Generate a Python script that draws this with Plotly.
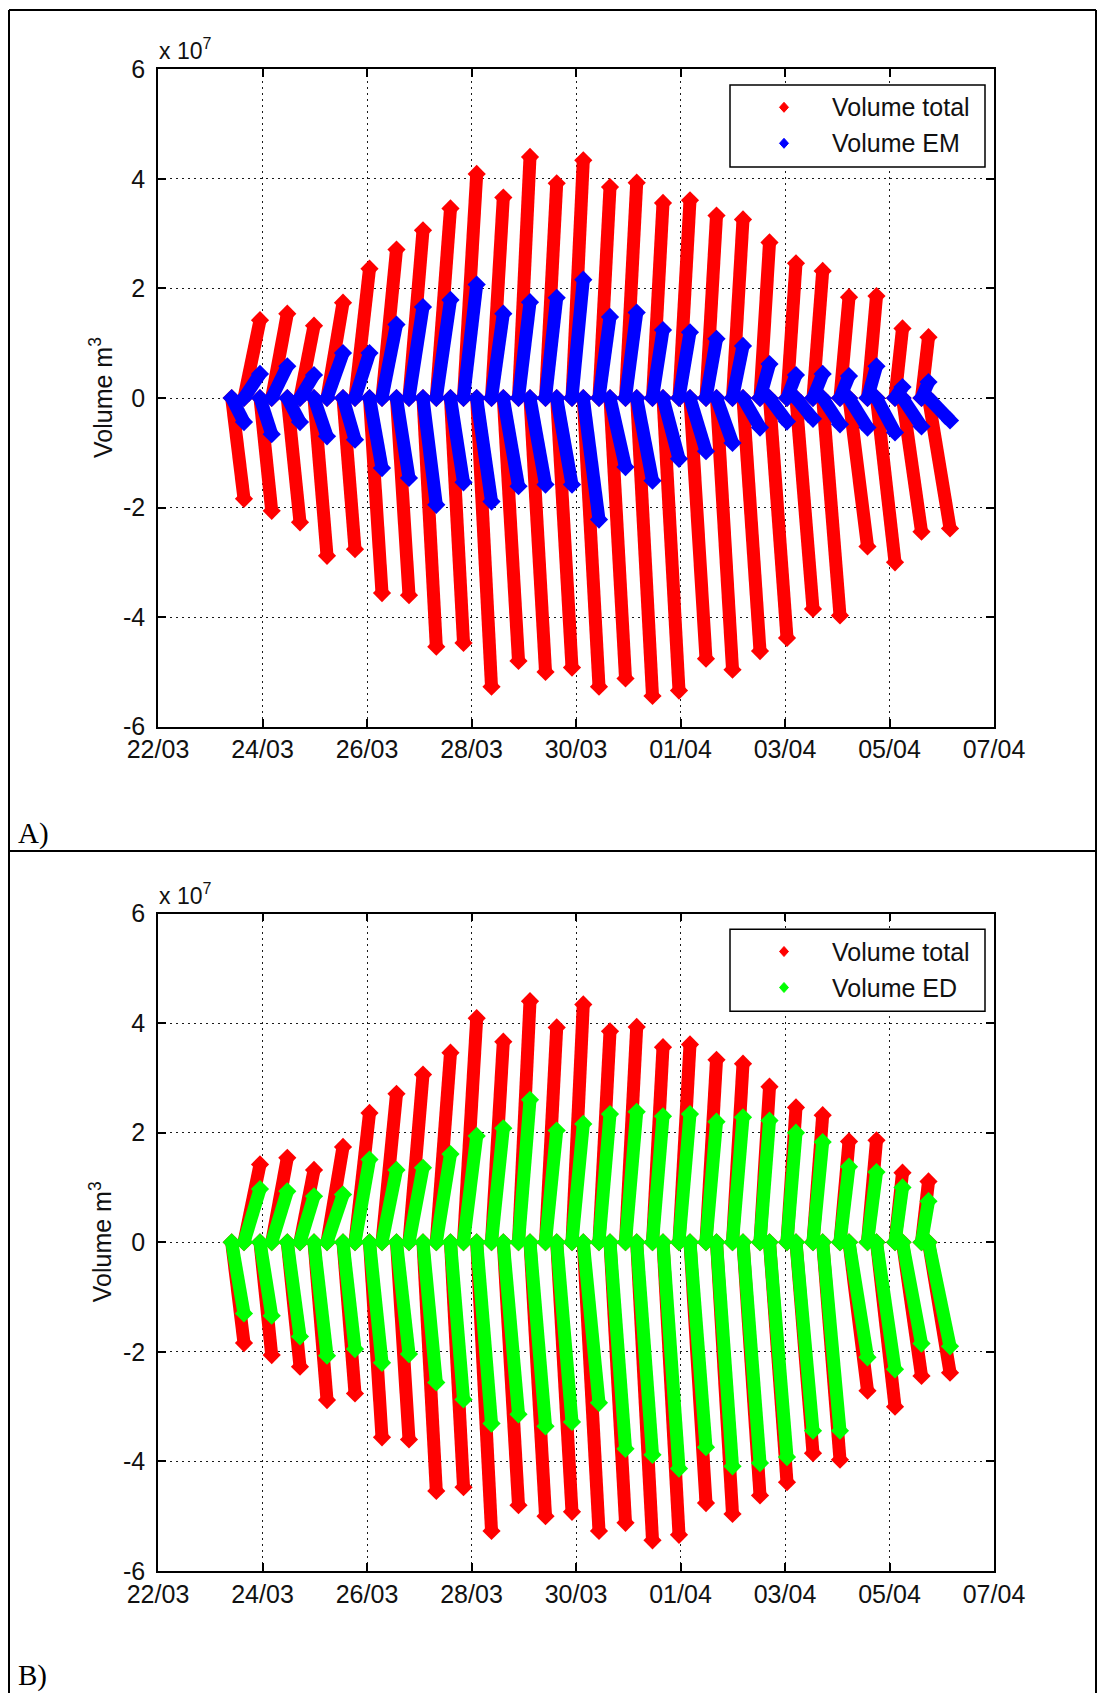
import pandas as pd
import plotly.graph_objects as go

# ---------------- data ----------------
# Turning times of the tide (hours after 22/03 00:00): ebb k runs B[2k]->B[2k+1],
# flood k runs B[2k+1]->B[2k+2]
BOUNDARY_HOURS = [
    33.85, 39.50, 46.85, 52.23, 59.39, 65.22, 71.66, 77.63, 84.98, 90.49,
    97.15, 102.89, 109.55, 115.29, 121.72, 127.83, 134.35, 140.33, 146.39, 153.19,
    158.61, 165.59, 170.87, 178.00, 183.14, 190.16, 195.35, 202.56, 207.62, 214.74,
    219.88, 227.14, 231.96, 239.31, 244.36, 251.71, 256.54, 263.89, 268.71, 276.52,
    280.88, 288.92, 293.05, 300.86, 305.31, 313.26, 317.40, 325.89, 330.03, 338.53,
    341.97, 350.70, 353.92, 363.80,
]

# cumulated volumes at end of each half tide, in 1e7 m3
TOTAL_FLOOD = [1.42, 1.54, 1.32, 1.74, 2.36, 2.71, 3.06, 3.46, 4.09, 3.66, 4.40, 3.92, 4.34,
               3.85, 3.93, 3.56, 3.61, 3.33, 3.26, 2.84, 2.46, 2.32, 1.84, 1.86, 1.27, 1.11]
TOTAL_EBB = [-1.84, -2.06, -2.27, -2.88, -2.76, -3.56, -3.60, -4.54, -4.47, -5.27, -4.80, -5.00,
             -4.92, -5.27, -5.12, -5.44, -5.34, -4.76, -4.96, -4.62, -4.38, -3.85, -3.97, -2.71,
             -3.00, -2.44, -2.38]
EM_FLOOD = [0.44, 0.58, 0.42, 0.82, 0.82, 1.34, 1.66, 1.79, 2.07, 1.54, 1.75, 1.83, 2.16,
            1.48, 1.56, 1.24, 1.20, 1.08, 0.95, 0.62, 0.42, 0.44, 0.40, 0.58, 0.20, 0.29]
EM_EBB = [-0.44, -0.66, -0.44, -0.70, -0.76, -1.28, -1.46, -1.95, -1.54, -1.89, -1.61, -1.58,
          -1.58, -2.22, -1.26, -1.51, -1.11, -0.97, -0.82, -0.54, -0.43, -0.38, -0.48, -0.54,
          -0.63, -0.52, -0.41]
ED_FLOOD = [0.97, 0.93, 0.84, 0.87, 1.51, 1.32, 1.36, 1.61, 1.94, 2.08, 2.60, 2.04, 2.16,
            2.34, 2.38, 2.30, 2.34, 2.20, 2.28, 2.22, 2.00, 1.83, 1.38, 1.28, 1.00, 0.75]
ED_EBB = [-1.30, -1.34, -1.72, -2.07, -1.95, -2.20, -2.04, -2.56, -2.87, -3.31, -3.14, -3.36,
          -3.28, -2.93, -3.77, -3.88, -4.13, -3.74, -4.09, -4.03, -3.92, -3.44, -3.44, -2.10,
          -2.32, -1.85, -1.90]

X_START = "2012-03-22"
X_END = "2012-04-07"
TICK_DATES = ["2012-03-22", "2012-03-24", "2012-03-26", "2012-03-28", "2012-03-30",
              "2012-04-01", "2012-04-03", "2012-04-05", "2012-04-07"]
TICK_LABELS = ["22/03", "24/03", "26/03", "28/03", "30/03", "01/04", "03/04", "05/04", "07/04"]
Y_TICKS = [-6, -4, -2, 0, 2, 4, 6]
Y_LABELS = ["-6", "-4", "-2", "0", "2", "4", "6"]

# ---------------- helpers ----------------
W, H = 1098, 1693
BASE = pd.Timestamp(X_START)
TIMES = [BASE + pd.to_timedelta(h, unit="h") for h in BOUNDARY_HOURS]


def fx(px):
    return px / W


def fy(py):
    return 1 - py / H


def strokes(ebb, flood):
    xs, ys = [], []
    for k, v in enumerate(ebb):
        xs += [TIMES[2 * k], TIMES[2 * k + 1], None]
        ys += [0, v, None]
    for k, v in enumerate(flood):
        xs += [TIMES[2 * k + 1], TIMES[2 * k + 2], None]
        ys += [0, v, None]
    return xs, ys


def stroke_trace(ebb, flood, color, xa, ya):
    xs, ys = strokes(ebb, flood)
    return go.Scatter(x=xs, y=ys, mode="lines+markers", xaxis=xa, yaxis=ya,
                      line=dict(color=color, width=13),
                      marker=dict(symbol="diamond", size=14, color=color, line=dict(width=0)),
                      connectgaps=False, showlegend=False, hoverinfo="skip")


RED, BLUE, GREEN = "#FF0000", "#0000FF", "#00FF00"
FONT = "Liberation Sans, Arial, sans-serif"

fig = go.Figure()
fig.add_trace(stroke_trace(TOTAL_EBB, TOTAL_FLOOD, RED, "x", "y"))
fig.add_trace(stroke_trace(EM_EBB, EM_FLOOD, BLUE, "x", "y"))
fig.add_trace(stroke_trace(TOTAL_EBB, TOTAL_FLOOD, RED, "x2", "y2"))
fig.add_trace(stroke_trace(ED_EBB, ED_FLOOD, GREEN, "x2", "y2"))

PLOT_L, PLOT_R = 158, 994
PANELS = [(69.3, 726.7), (913.5, 1571.0)]

common_x = dict(type="date", range=[X_START, X_END], tickvals=TICK_DATES, ticktext=TICK_LABELS,
                ticks="inside", ticklen=8, tickwidth=1.5, tickcolor="black",
                showline=True, linecolor="black", linewidth=1.5, mirror="ticks",
                showgrid=True, gridcolor="#1a1a1a", griddash="2px,4px", gridwidth=1.3,
                zeroline=False, tickfont=dict(family=FONT, size=25, color="#111"),
                ticklabelstandoff=0, automargin=False)
common_y = dict(range=[-6, 6], tickvals=Y_TICKS, ticktext=Y_LABELS,
                ticks="inside", ticklen=8, tickwidth=1.5, tickcolor="black",
                showline=True, linecolor="black", linewidth=1.5, mirror="ticks",
                showgrid=True, gridcolor="#1a1a1a", griddash="2px,4px", gridwidth=1.3,
                zeroline=False, tickfont=dict(family=FONT, size=25, color="#111"),
                ticklabelstandoff=6, automargin=False)

fig.update_layout(
    width=W, height=H, autosize=False,
    margin=dict(l=0, r=0, t=0, b=0, pad=0, autoexpand=False),
    paper_bgcolor="white", plot_bgcolor="white", showlegend=False,
    xaxis=dict(common_x, domain=[fx(PLOT_L), fx(PLOT_R)], anchor="y"),
    yaxis=dict(common_y, domain=[fy(PANELS[0][1]), fy(PANELS[0][0])], anchor="x"),
    xaxis2=dict(common_x, domain=[fx(PLOT_L), fx(PLOT_R)], anchor="y2"),
    yaxis2=dict(common_y, domain=[fy(PANELS[1][1]), fy(PANELS[1][0])], anchor="x2"),
)

shapes = []
annotations = []
# outer table borders
for (x0, y0, x1, y1) in [(9, 10, 1096, 10), (9, 10, 9, 1693), (1096, 10, 1096, 1693), (9, 851, 1096, 851)]:
    shapes.append(dict(type="line", xref="paper", yref="paper", x0=fx(x0), y0=fy(y0), x1=fx(x1), y1=fy(y1),
                       line=dict(color="black", width=2)))

legend_names = [("Volume total", RED, "Volume EM", BLUE), ("Volume total", RED, "Volume ED", GREEN)]
for i, (top, bot) in enumerate(PANELS):
    mid = (top + bot) / 2
    # scale factor label
    annotations.append(dict(xref="paper", yref="paper", x=fx(PLOT_L - 1), y=fy(top - 20), xanchor="left",
                            yanchor="middle", showarrow=False, text="x 10<sup>7</sup>",
                            font=dict(family=FONT, size=23, color="#111")))
    # y label
    annotations.append(dict(xref="paper", yref="paper", x=fx(101), y=fy(mid), xanchor="center",
                            yanchor="middle", showarrow=False, textangle=-90, text="Volume m<sup>3</sup>",
                            font=dict(family=FONT, size=25, color="#111")))
    # legend box
    off = top - PANELS[0][0]
    bx0, bx1, by0, by1 = 730, 985, 85 + off, 167 + off
    shapes.append(dict(type="rect", xref="paper", yref="paper", x0=fx(bx0), x1=fx(bx1), y0=fy(by0), y1=fy(by1),
                       line=dict(color="black", width=1.5), fillcolor="white", layer="above"))
    n1, c1, n2, c2 = legend_names[i]
    for (name, col, ry) in [(n1, c1, 107.3 + off), (n2, c2, 143.3 + off)]:
        cx = 784
        path = (f"M {fx(cx)},{fy(ry - 5)} L {fx(cx + 4.5)},{fy(ry)} L {fx(cx)},{fy(ry + 5)} "
                f"L {fx(cx - 4.5)},{fy(ry)} Z")
        shapes.append(dict(type="path", xref="paper", yref="paper", path=path, fillcolor=col,
                           line=dict(color=col, width=1), layer="above"))
        annotations.append(dict(xref="paper", yref="paper", x=fx(830), y=fy(ry), xanchor="left",
                                yanchor="middle", showarrow=False, text=name,
                                font=dict(family=FONT, size=25, color="#111")))

# panel letters
annotations.append(dict(xref="paper", yref="paper", x=fx(16), y=fy(833), xanchor="left", yanchor="middle",
                        showarrow=False, text="A)", font=dict(family="Liberation Serif, Times New Roman, serif",
                                                              size=29, color="black")))
annotations.append(dict(xref="paper", yref="paper", x=fx(16), y=fy(1675), xanchor="left", yanchor="middle",
                        showarrow=False, text="B)", font=dict(family="Liberation Serif, Times New Roman, serif",
                                                              size=29, color="black")))

fig.update_layout(shapes=shapes, annotations=annotations)
fig.write_html("out.html", config={"displayModeBar": False},
               post_script="document.body.style.margin='0';document.body.style.overflow='hidden';")
